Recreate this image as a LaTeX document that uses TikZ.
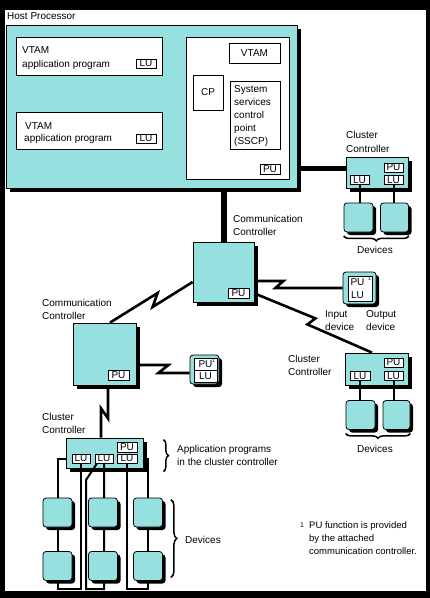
\documentclass[tikz,border=0pt]{standalone}
\usepackage{fontspec}
\setmainfont{Liberation Sans}
\usetikzlibrary{shadows,decorations.pathreplacing}
\definecolor{cian}{RGB}{150,224,224}
\begin{document}
\begin{tikzpicture}[x=1pt,y=-1pt,font=\fontsize{10}{12}\selectfont]
% estilos de linea y relleno
\tikzstyle{caja} = [draw=black,line width=0.8pt,fill=cian,inner sep=0pt,
  drop shadow={shadow xshift=4pt,shadow yshift=-4pt,fill=black,opacity=1}]
\tikzstyle{equipo} = [draw=black,line width=0.8pt,fill=cian,inner sep=0pt,
  rounded corners=3pt,minimum width=29pt,minimum height=29pt,
  drop shadow={shadow xshift=3pt,shadow yshift=-3pt,fill=black,opacity=1}]
\tikzstyle{blanca} = [draw=black,line width=0.8pt,fill=white,inner sep=0pt]
\tikzstyle{unidad} = [draw=black,line width=0.8pt,fill=white,inner sep=0pt,
  minimum width=20pt,minimum height=9pt]
\tikzstyle{texto} = [anchor=base west,inner sep=0pt]
\tikzstyle{rotulo} = [anchor=base,inner sep=0pt]
\tikzstyle{marca} = [inner sep=0pt,font=\fontsize{5}{5}\selectfont]
\tikzstyle{enlace} = [line width=2.6pt]
\tikzstyle{troncal} = [line width=6pt]
\tikzstyle{cable} = [line width=2pt]
\tikzstyle{llave} = [decorate,decoration={brace,amplitude=5pt},line width=1.5pt]
% --------------------------------------
% marco
\useasboundingbox (0,0) rectangle (430,598);
\fill [black] (0,0) rectangle (430,598);
\fill [white] (5,10) rectangle (426,591);
% --------------------------------------
% procesador anfitrion
\node [caja,minimum width=291pt,minimum height=163pt] (host) at (151.5,106.5) {};
\node [texto] (thost) at (7,19) {Host Processor};
\node [blanca,minimum width=146pt,minimum height=38pt] (app1) at (89,56) {};
\node [texto] (tapp1a) at (22,53.5) {VTAM};
\node [texto] (tapp1b) at (22,67) {application program};
\node [unidad] (luapp1) at (146,63.5) {LU};
\node [blanca,minimum width=146pt,minimum height=37pt] (app2) at (89,130.5) {};
\node [texto] (tapp2a) at (25,129) {VTAM};
\node [texto] (tapp2b) at (24,141.5) {application program};
\node [unidad] (luapp2) at (146,138.5) {LU};
\node [blanca,minimum width=103pt,minimum height=142pt] (ctrl) at (237.5,108) {};
\node [blanca,minimum width=51pt,minimum height=20pt] (vtam) at (254.5,53) {VTAM};
\node [blanca,minimum width=30pt,minimum height=35pt] (cp) at (208,92.5) {CP};
\node [blanca,minimum width=50pt,minimum height=68pt] (sscp) at (255,115) {};
\foreach \t [count=\i] in {System,services,control,point,{(SSCP)}}
  \node [texto] (tsscp\i) at (234,80+12.8*\i) {\t};
\node [unidad,minimum height=10pt] (pusscp) at (270,169) {PU};
% --------------------------------------
% controlador de grupo superior
\node [caja,minimum width=62pt,minimum height=31pt] (cc1) at (377,172.5) {};
\node [texto] (tcc1a) at (346,138) {Cluster};
\node [texto] (tcc1b) at (346,152) {Controller};
\node [unidad,minimum width=19pt] (pucc1) at (393.5,167.5) {PU};
\node [unidad,minimum width=19pt] (lucc1a) at (359.5,180) {LU};
\node [unidad,minimum width=19pt] (lucc1b) at (393.5,180) {LU};
\node [equipo] (dcc1a) at (358.5,217.5) {};
\node [equipo,minimum width=28pt] (dcc1b) at (394.5,217.5) {};
\draw [cable] (lucc1a.south) -- (lucc1a.south |- dcc1a.north);
\draw [cable] (lucc1b.south) -- (lucc1b.south |- dcc1b.north);
\draw [llave] ([yshift=-3.5pt]dcc1b.south east) -- ([yshift=-3.5pt]dcc1a.south west);
\node [rotulo] (tdev1) at (375,253) {Devices};
% --------------------------------------
% controlador de comunicaciones central
\node [caja,minimum width=61pt,minimum height=60pt] (cc) at (223.5,272) {};
\node [texto] (tcca) at (233,222) {Communication};
\node [texto] (tccb) at (233,235) {Controller};
\node [unidad,minimum width=21pt,minimum height=10pt] (pucc) at (238.5,293) {PU};
\draw [troncal] (host.south -| cc.north) -- (cc.north);
\draw [troncal,line width=5pt] ([yshift=4.5pt]cc1.west -| host.east) -- ([yshift=4.5pt]cc1.west);
% dispositivo de entrada y salida
\node [equipo,minimum width=33pt,minimum height=32pt] (io1) at (359.5,288) {};
\node [blanca,minimum width=24pt,minimum height=25pt] (io1i) at (360,288.5) {};
\node [inner sep=0pt] (io1pu) at (357.5,282) {PU};
\node [inner sep=0pt] (io1lu) at (357.5,295) {LU};
\node [marca] (io1m) at (369.5,279) {1};
\node [texto] (tin1) at (325,317) {Input};
\node [texto] (tin2) at (325,330) {device};
\node [texto] (tout1) at (366,317) {Output};
\node [texto] (tout2) at (366,330) {device};
\draw [enlace] ([yshift=-9pt]cc.east) -- ++(29,0) -- ++(-8,7) -- (io1.west);
% --------------------------------------
% controlador de grupo derecho
\node [caja,minimum width=63pt,minimum height=32pt] (cc2) at (376.5,369) {};
\node [texto] (tcc2a) at (288,362) {Cluster};
\node [texto] (tcc2b) at (288,375) {Controller};
\node [unidad,minimum width=19pt] (pucc2) at (393.5,362.5) {PU};
\node [unidad] (lucc2a) at (360,376) {LU};
\node [unidad,minimum width=19pt] (lucc2b) at (393.5,376) {LU};
\node [equipo] (dcc2a) at (360.5,415) {};
\node [equipo,minimum width=27pt] (dcc2b) at (396.5,415) {};
\draw [cable] (lucc2a.south) -- (lucc2a.south |- dcc2a.north);
\draw [cable] (lucc2b.south) -- (lucc2b.south |- dcc2b.north);
\draw [llave] ([yshift=-3.5pt]dcc2b.south east) -- ([yshift=-3.5pt]dcc2a.south west);
\node [rotulo] (tdev2) at (375,452) {Devices};
\draw [enlace] ([yshift=9pt]cc.south east) -- ++(61,25) -- ++(-8,6) -- ([xshift=-4.5pt]cc2.north);
% --------------------------------------
% controlador de comunicaciones izquierdo
\node [caja,minimum width=63pt,minimum height=62pt] (cc3) at (104.5,354) {};
\node [texto] (tcc3a) at (42,306) {Communication};
\node [texto] (tcc3b) at (42,319.5) {Controller};
\node [unidad,minimum width=21pt,minimum height=10pt] (pucc3) at (118.5,375) {PU};
\draw [enlace] ([yshift=-10pt]cc.west) -- ++(-40,25) -- ++(5,-14) -- ([xshift=5.5pt]cc3.north);
% dispositivo con PU y LU
\node [equipo] (io2) at (204.5,369.5) {};
\node [blanca,minimum width=23pt,minimum height=12pt] (io2pu) at (205.5,364) {PU\hspace{4pt}};
\node [blanca,minimum width=23pt,minimum height=12pt] (io2lu) at (205.5,376) {LU};
\node [marca] (io2m) at (213.5,360.5) {1};
\draw [enlace] ([yshift=-11pt]cc3.east) -- ++(32,0) -- ++(-10,8) -- ([yshift=-3.5pt]io2.west);
% --------------------------------------
% controlador de grupo inferior
\node [caja,minimum width=77pt,minimum height=30pt] (cc4) at (104.5,453) {};
\node [texto] (tcc4a) at (42,420) {Cluster};
\node [texto] (tcc4b) at (42,433) {Controller};
\node [unidad,minimum height=10pt] (pucc4) at (127,447) {PU};
\node [unidad,minimum width=18pt] (lucc4a) at (81,458.5) {LU};
\node [unidad,minimum width=18pt] (lucc4b) at (104,458.5) {LU};
\node [unidad] (lucc4c) at (127,458.5) {LU};
\draw [enlace] ([xshift=3.5pt]cc3.south) -- ++(0,33) -- ++(-7,-10) -- ([xshift=-3.5pt]cc4.north);
\draw [llave] ([xshift=20pt,yshift=-2pt]cc4.north east) -- ([xshift=20pt,yshift=-34pt]cc4.north east);
\node [texto] (tapl1) at (177,452) {Application programs};
\node [texto] (tapl2) at (177,465) {in the cluster controller};
% columnas y filas de equipos
\coordinate (fondo) at (0,589);
\coordinate (col1) at (57.5,0);
\coordinate (col2) at (103,0);
\coordinate (col3) at (148,0);
\coordinate (fila1) at (0,512.5);
\coordinate (fila2) at (0,566);
% dibujar cables
\draw [cable] ([yshift=-5.5pt]cc4.west) -| (col1 |- fondo) -| (lucc4a.south);
\draw [cable] (lucc4b.south) -- (lucc4b.south |- fondo) -- ++(-18,0) -- ++(0,-109) -- ([xshift=-7pt]lucc4b.south);
\draw [cable] (lucc4c.south) |- (col3 |- fondo) |- ([yshift=-5.5pt]cc4.east);
% dibujar equipos
\foreach \c in {1,2,3}
  \foreach \f in {1,2}
    \node [equipo] (d\f\c) at (col\c |- fila\f) {};
\draw [llave,decoration={brace,amplitude=6pt}] ([xshift=8pt,yshift=-2pt]d13.north east) -- ([xshift=8pt,yshift=3.5pt]d23.south east);
\node [texto] (tdev3) at (185,543) {Devices};
% --------------------------------------
% nota
\begin{scope}[font=\fontsize{9.5}{11}\selectfont]
\node [texto,font=\fontsize{7}{7}\selectfont] (tnota0) at (300,527.5) {1};
\node [texto] (tnota1) at (309,528) {PU function is provided};
\node [texto] (tnota2) at (309,541) {by the attached};
\node [texto] (tnota3) at (309,554) {communication controller.};
\end{scope}
\end{tikzpicture}
\end{document}
